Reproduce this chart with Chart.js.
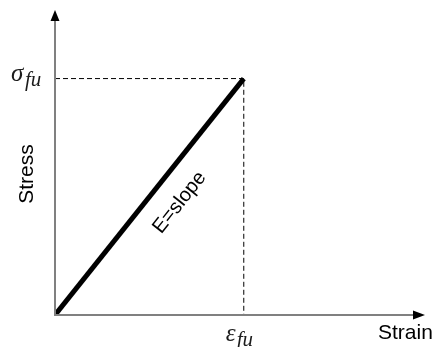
<!DOCTYPE html>
<html>
<head>
<meta charset="utf-8">
<script src="https://cdn.jsdelivr.net/npm/chart.js@4"></script>
<style>
  html, body { margin: 0; padding: 0; background: #fff; }
  #wrap { width: 433px; height: 347px; }
</style>
</head>
<body>
<div id="wrap"><canvas id="stressStrain" width="433" height="347"></canvas></div>
<script>
// Linear elastic stress-strain (normalised to failure point)
const strain = [0, 1];
const stress = [0, 1];
const failStrain = 1;
const failStress = 1;
const xLabel = 'Strain';
const yLabel = 'Stress';
const slopeLabel = 'E=slope';

const xMax = 1.96;
const yMax = 1.29;

const axesPlugin = {
  id: 'axesPlugin',
  afterDraw(chart) {
    const ctx = chart.ctx;
    const xs = chart.scales.x, ys = chart.scales.y;
    const x0 = xs.getPixelForValue(0), y0 = ys.getPixelForValue(0);
    const xEnd = xs.getPixelForValue(xMax), yEnd = ys.getPixelForValue(yMax);
    ctx.save();
    // axis lines
    ctx.strokeStyle = '#808080';
    ctx.lineWidth = 2;
    ctx.beginPath();
    ctx.moveTo(x0, y0 + 1); ctx.lineTo(x0, yEnd + 8);
    ctx.moveTo(x0 - 1, y0); ctx.lineTo(xEnd - 8, y0);
    ctx.stroke();
    // arrow heads
    ctx.fillStyle = '#000';
    ctx.beginPath();
    ctx.moveTo(x0, yEnd); ctx.lineTo(x0 - 4.5, yEnd + 11); ctx.lineTo(x0 + 4.5, yEnd + 11);
    ctx.closePath(); ctx.fill();
    ctx.beginPath();
    ctx.moveTo(xEnd, y0); ctx.lineTo(xEnd - 12, y0 - 4.5); ctx.lineTo(xEnd - 12, y0 + 4.5);
    ctx.closePath(); ctx.fill();

    // tick labels at failure point
    const fx = xs.getPixelForValue(failStrain), fy = ys.getPixelForValue(failStress);
    ctx.fillStyle = '#1c1c1c';
    ctx.textBaseline = 'alphabetic';
    ctx.textAlign = 'left';
    ctx.font = 'italic 25px "Liberation Serif"';
    ctx.fillText('σ', 11, fy + 2);
    ctx.font = 'italic 21px "Liberation Serif"';
    ctx.fillText('fu', 25, fy + 7);
    ctx.font = 'italic 25px "Liberation Serif"';
    ctx.fillText('ε', fx - 18, y0 + 26);
    ctx.font = 'italic 21px "Liberation Serif"';
    ctx.fillText('fu', fx - 7, y0 + 31);

    // axis titles
    ctx.font = '21px "Liberation Sans"';
    ctx.fillStyle = '#000';
    ctx.textAlign = 'left';
    ctx.fillText(xLabel, 378, y0 + 24);
    ctx.save();
    ctx.translate(33, 174);
    ctx.rotate(-Math.PI / 2);
    ctx.textAlign = 'center';
    ctx.fillText(yLabel, 0, 0);
    ctx.restore();

    // slope label along the line
    const ang = Math.atan2(fy - y0, fx - x0);
    ctx.save();
    ctx.translate(184, 206);
    ctx.rotate(ang);
    ctx.textAlign = 'center';
    ctx.font = '20px "Liberation Sans"';
    ctx.fillText(slopeLabel, 0, 0);
    ctx.restore();
    ctx.restore();
  }
};

new Chart(document.getElementById('stressStrain'), {
  type: 'scatter',
  data: {
    datasets: [
      {
        data: strain.map((s, i) => ({ x: s, y: stress[i] })),
        showLine: true,
        borderColor: '#000',
        borderWidth: 5,
        pointRadius: 0
      },
      {
        data: [{ x: 0, y: failStress }, { x: failStrain, y: failStress }, { x: failStrain, y: 0 }],
        showLine: true,
        borderColor: '#000',
        borderWidth: 1,
        borderDash: [5, 3],
        pointRadius: 0
      }
    ]
  },
  options: {
    responsive: false,
    animation: false,
    layout: { padding: { left: 55, right: 8, top: 10, bottom: 32 } },
    plugins: { legend: { display: false }, tooltip: { enabled: false } },
    scales: {
      x: { type: 'linear', min: 0, max: xMax, display: false },
      y: { type: 'linear', min: 0, max: yMax, display: false }
    }
  },
  plugins: [axesPlugin]
});
</script>
</body>
</html>
